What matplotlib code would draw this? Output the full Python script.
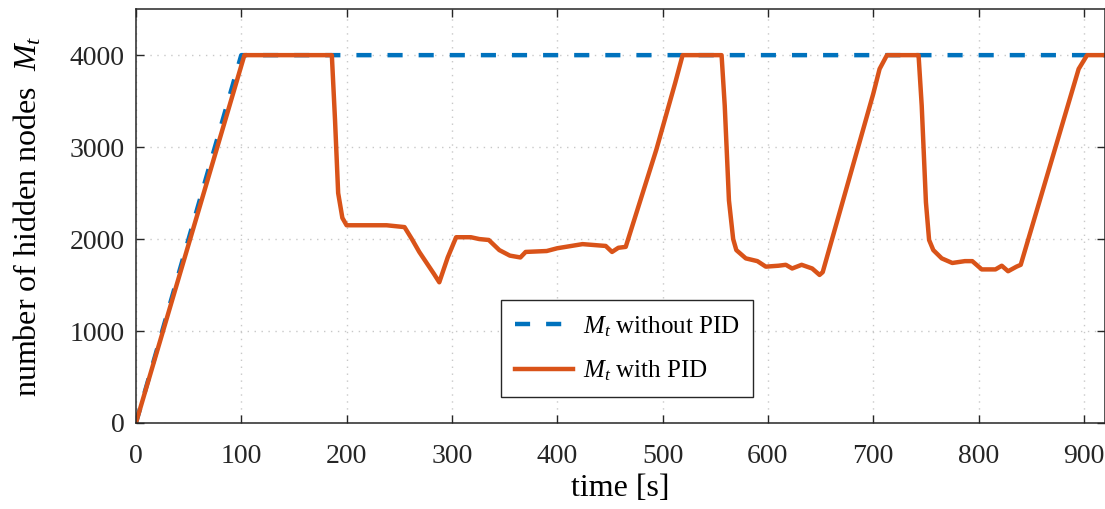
import numpy as np
import matplotlib
matplotlib.use("Agg")
import matplotlib.pyplot as plt

plt.rcParams['font.family'] = ['Liberation Serif', 'DejaVu Serif']
plt.rcParams['mathtext.fontset'] = 'custom'
plt.rcParams['mathtext.rm'] = 'Liberation Serif'
plt.rcParams['mathtext.it'] = 'Liberation Serif:italic'

# M_t without PID controller
t_nopid = [0, 100, 920]
m_nopid = [0, 4000, 4000]

# M_t with PID controller
t_pid = [0, 103, 186, 189, 192, 196, 200, 238, 255, 262, 269, 276, 283, 288,
         296, 304, 318, 326, 335, 345, 355, 365, 370, 390, 400, 424, 446, 452,
         458, 465, 494, 512, 519, 556, 559, 563, 567, 570, 579, 590, 598, 610,
         617, 623, 632, 642, 649, 652, 700, 706, 713, 743, 746, 750, 753, 757,
         765, 775, 787, 794, 803, 816, 822, 828, 836, 840, 895, 903, 920]
m_pid = [0, 4000, 4000, 3300, 2500, 2230, 2150, 2150, 2130, 2000, 1860, 1740, 1620, 1530,
         1800, 2020, 2020, 2000, 1990, 1880, 1820, 1800, 1860, 1870, 1900, 1945, 1925, 1860,
         1905, 1915, 2970, 3700, 4000, 4000, 3450, 2420, 2000, 1880, 1790, 1760, 1700, 1710,
         1720, 1680, 1720, 1680, 1610, 1640, 3580, 3850, 4000, 4000, 3450, 2400, 1990, 1880,
         1790, 1740, 1760, 1760, 1670, 1670, 1710, 1650, 1700, 1720, 3850, 4000, 4000]

fig = plt.figure(figsize=(11.05, 5.09), dpi=100)
ax = fig.add_axes([0.123, 0.169, 0.877, 0.813])

ax.plot(t_nopid, m_nopid, color='#0072BD', linewidth=3.2, linestyle=(0, (3.4, 3.6)),
        label=r'$M_t$ without PID')
ax.plot(t_pid, m_pid, color='#D95319', linewidth=3.2, solid_joinstyle='round',
        label=r'$M_t$ with PID')

ax.set_xlim(0, 920)
ax.set_ylim(0, 4500)
ax.set_xticks(np.arange(0, 901, 100))
ax.set_yticks([0, 1000, 2000, 3000, 4000])

ax.grid(True, color='#c8c8c8', linestyle=(0, (1, 4)), linewidth=1.0)
for s in ax.spines.values():
    s.set_color('#262626')
    s.set_linewidth(1.1)
ax.tick_params(direction='in', length=6, width=1.0, colors='#262626',
               labelsize=20, top=True, right=True)
ax.tick_params(axis='x', pad=15)
ax.tick_params(axis='y', pad=8)

ax.set_xlabel('time [s]', fontsize=23, labelpad=4)
ax.set_ylabel(r'number of hidden nodes  $M_t$', fontsize=23, labelpad=19)

leg = ax.legend(loc='lower left', bbox_to_anchor=(0.377, 0.063), fontsize=18,
                handlelength=2.3, frameon=True, fancybox=False, framealpha=1,
                borderpad=0.55, labelspacing=0.8, handletextpad=0.4, borderaxespad=0)
leg.get_frame().set_edgecolor('#262626')
leg.get_frame().set_linewidth(1.0)

fig.savefig('out.png', dpi=100)
